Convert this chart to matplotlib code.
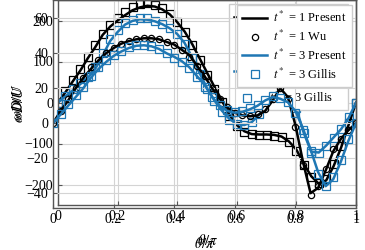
import matplotlib.pyplot as plt

plt.rcParams['font.family'] = ['Liberation Serif', 'DejaVu Serif']
plt.rcParams['mathtext.fontset'] = 'stix'

theta = [0.0, 0.025, 0.05, 0.075, 0.1, 0.125, 0.15, 0.175, 0.2, 0.225,
         0.25, 0.275, 0.3, 0.325, 0.35, 0.375, 0.4, 0.425, 0.45, 0.475,
         0.5, 0.525, 0.55, 0.575, 0.6, 0.625, 0.65, 0.675, 0.7, 0.725,
         0.75, 0.775, 0.8, 0.825, 0.85, 0.875, 0.9, 0.925, 0.95, 0.975, 1.0]

# front panel (ticks -40..60)
present_t1_a = [0, 7, 13, 20, 26, 31, 36, 40, 43, 45.5,
                47, 48, 48.6, 48.6, 48, 46.5, 45, 42, 39, 33,
                27, 20, 14, 9, 6, 4.5, 4, 4.5, 7, 13,
                20, 15, -1, -22, -40, -37, -27, -16, -9, -4, 0]
wu_t1_a = [0, 7, 14, 20, 26, 32, 36, 40, 43, 45.5,
           47, 48.3, 48.8, 48.6, 48, 46.5, 44.5, 42, 38, 33,
           27, 20, 14, 9, 6, 4.5, 4, 5, 8, 14,
           20, 14, -2, -24, -41, -36, -26, -15, -9, -4, 0]
present_t3_a = [0, 5, 10, 15, 20, 26, 31, 35, 38.5, 41,
                43, 44.3, 44.6, 44, 42.5, 40, 38, 35.5, 32, 27,
                22, 15, 10, 7, 6, 6.5, 8, 10, 13, 15,
                14, 12, 7, -3, -15, -28, -36, -32, -22, -10, 0]
gillis_t3_a = [0, 5, 11, 16, 21, 27, 32, 36, 39, 41.5,
               43.5, 44.8, 45, 44.2, 42.5, 40, 37.5, 35, 31.5, 26.5,
               21, 15, 10.5, 7.5, 6.5, 7, 8.5, 10.5, 13.5, 15.5,
               14.5, 12, 6, -4, -16, -29, -36, -31, -21, -9, 0]

# back panel (ticks -200..200)
present_t1_b = [0, 25, 52, 78, 108, 135, 165, 185, 200, 213,
                225, 232, 236, 234, 227, 215, 196, 173, 143, 108,
                73, 38, 5, -30, -55, -70, -77, -78, -78, -79,
                -83, -95, -115, -150, -180, -198, -190, -155, -110, -55, 0]
ref_t1_b = [0, 27, 55, 82, 112, 140, 168, 190, 206, 220,
            232, 240, 242, 238, 230, 216, 196, 172, 140, 104,
            68, 34, 2, -32, -57, -72, -78, -80, -80, -81,
            -85, -97, -118, -152, -182, -196, -186, -150, -105, -50, 0]
present_t3_b = [0, 15, 30, 45, 60, 82, 115, 150, 172, 190,
                199, 203, 202, 198, 191, 181, 167, 145, 110, 72,
                35, 5, -20, -40, -52, -55, -48, -30, -8, 25,
                48, 30, -15, -75, -120, -122, -105, -85, -65, -38, 0]
gillis_t3_b = [0, 16, 32, 47, 63, 86, 120, 154, 176, 193,
               202, 206, 205, 200, 192, 181, 166, 143, 108, 70,
               33, 3, -22, -42, -53, -55, -47, -28, -5, 28,
               50, 32, -14, -75, -122, -124, -106, -86, -64, -36, 0]

xticks = [0, 0.2, 0.4, 0.6, 0.8, 1.0]
xtick_labels = ['0', '0.2', '0.4', '0.6', '0.8', '1']
yticks_a = [-40, -20, 0, 20, 40, 60]
yticks_b = [-200, -100, 0, 100, 200]

labels = [r'$t^*$ = 1 Present', r'$t^*$ = 1 Wu',
          r'$t^*$ = 3 Present', r'$t^*$ = 3 Gillis']
blue = '#1f77b4'


def style_axes(ax, yticks, ylim):
    ax.set_xlim(0, 1)
    ax.set_ylim(ylim)
    ax.set_xticks(xticks)
    ax.set_xticklabels(xtick_labels)
    ax.set_yticks(yticks)
    ax.grid(True, color='#d4d4d4', lw=0.8)
    ax.set_axisbelow(True)
    for s in ax.spines.values():
        s.set_color('#555555')
        s.set_linewidth(1.0)
    ax.tick_params(direction='in', length=3, labelsize=10, color='#555555')
    ax.set_xlabel(r'$\theta/\pi$', fontsize=10.5, labelpad=7)
    ax.set_ylabel(r'$\omega D/U$', fontsize=10.5, labelpad=0)


def draw(ax, line1, mark1, m1, line3, mark3):
    ax.plot(theta, line1, color='k', lw=1.8, label=labels[0])
    ax.plot(theta, mark1, ls='none', marker=m1, ms=4.5 if m1 == 'o' else 5.5,
            mfc='none', mec='k', mew=0.9, label=labels[1])
    ax.plot(theta, line3, color=blue, lw=1.8, label=labels[2])
    ax.plot(theta, mark3, ls='none', marker='s', ms=5.5,
            mfc='none', mec=blue, mew=0.9, label=labels[3])


fig = plt.figure(figsize=(3.65, 2.5), dpi=100)
ax_b = fig.add_axes([58 / 365, 45 / 250, 298 / 365, 205 / 250])
ax_a = fig.add_axes([53 / 365, 42 / 250, 303 / 365, 208 / 250], facecolor='none')

draw(ax_b, present_t1_b, ref_t1_b, 's', present_t3_b, gillis_t3_b)
style_axes(ax_b, yticks_b, (-250, 250))
ax_b.legend(loc='upper right', bbox_to_anchor=(348 / 365, 1 - 4 / 250),
            bbox_transform=fig.transFigure, borderaxespad=0, fontsize=9,
            labelspacing=0.95, handlelength=2.0, fancybox=False,
            edgecolor='#cccccc', framealpha=1)

draw(ax_a, present_t1_a, wu_t1_a, 'o', present_t3_a, gillis_t3_a)
style_axes(ax_a, yticks_a, (-48.5, 70.5))
ax_a.legend(loc='upper right', bbox_to_anchor=(352 / 365, 1 - 5 / 250),
            bbox_transform=fig.transFigure, borderaxespad=0, fontsize=9,
            labelspacing=0.3, handlelength=2.0, handletextpad=0.5,
            fancybox=False, edgecolor='#cccccc', framealpha=1)

fig.savefig('out.png', dpi=100)
